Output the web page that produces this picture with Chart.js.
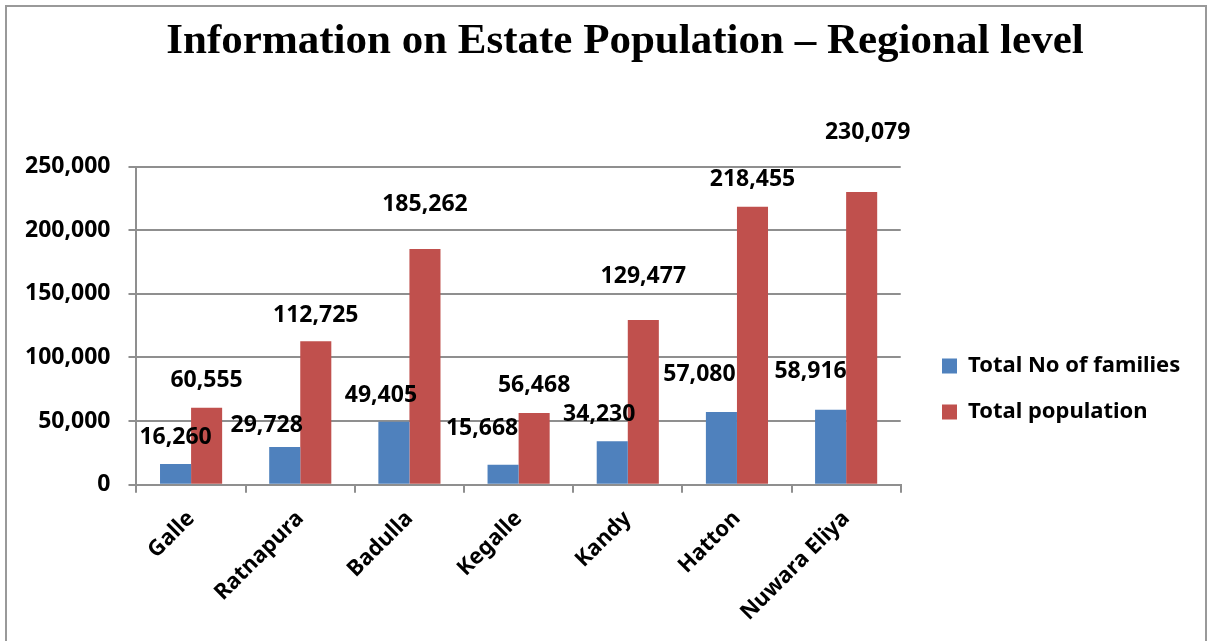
<!DOCTYPE html>
<html>
<head>
<meta charset="utf-8">
<script src="https://cdn.jsdelivr.net/npm/chart.js@4/dist/chart.umd.min.js"></script>
<style>
  html, body { margin: 0; padding: 0; background: #fff; overflow: hidden; }
  #wrap { position: relative; width: 1209px; height: 641px; }
  #frame { position: absolute; left: 5px; top: 5px; width: 1198px; height: 700px; border: 2px solid #999; pointer-events: none; }
  canvas { position: absolute; left: 0; top: 0; }
</style>
</head>
<body>
<div id="wrap">
  <canvas id="c" width="1209" height="641"></canvas>
  <div id="frame"></div>
</div>
<script>
// ---- data ----
const chartTitle = 'Information on Estate Population \u2013 Regional level';
const regions = ['Galle', 'Ratnapura', 'Badulla', 'Kegalle', 'Kandy', 'Hatton', 'Nuwara Eliya'];
const seriesNames = ['Total No of families', 'Total population'];
const totalFamilies = [16260, 29728, 49405, 15668, 34230, 57080, 58916];
const totalPopulation = [60555, 112725, 185262, 56468, 129477, 218455, 230079];
const yMin = 0, yMax = 250000, yStep = 50000;

// ---- label placement tweaks (pixels, as placed in the original) ----
const familiesLabelShift = [[0, 0], [-18, 6], [-13, 1], [-21, -9], [-13, 0], [-22, -11], [-20, -11]];
const populationLabelShift = [[0, 0], [0, 1], [0, -18], [0, 0], [0, -17], [0, 0], [6, -32]];

const fmt = v => Number(v).toLocaleString('en-US');
const SANS = "'Noto Sans', 'Open Sans', sans-serif";
const GRID = '#8f8f8f';

Chart.defaults.font.family = SANS;
Chart.defaults.color = '#000';

const valueLabels = {
  id: 'valueLabels',
  afterDatasetsDraw(chart) {
    const ctx = chart.ctx;
    const shifts = [familiesLabelShift, populationLabelShift];
    ctx.save();
    ctx.font = "bold 23px " + SANS;
    ctx.fillStyle = '#000';
    ctx.textAlign = 'center';
    ctx.textBaseline = 'middle';
    chart.data.datasets.forEach((ds, di) => {
      const meta = chart.getDatasetMeta(di);
      meta.data.forEach((el, i) => {
        const s = shifts[di][i];
        ctx.fillText(fmt(ds.data[i]), el.x + s[0], el.y - 27 + s[1]);
      });
    });
    ctx.restore();
  }
};

const placeBlocks = {
  id: 'placeBlocks',
  afterLayout(chart, args, opts) {
    const lg = chart.legend;
    if (lg) {
      const h = lg.bottom - lg.top, w = lg.right - lg.left;
      lg.left = opts.legendLeft; lg.right = lg.left + w;
      lg.top = opts.legendTop; lg.bottom = lg.top + h;
    }
    const tb = chart.titleBlock;
    if (tb) {
      const w = tb.right - tb.left;
      tb.left = opts.titleCenter - w / 2; tb.right = tb.left + w;
    }
  }
};

new Chart(document.getElementById('c'), {
  type: 'bar',
  data: {
    labels: regions,
    datasets: [
      { label: seriesNames[0], data: totalFamilies, backgroundColor: '#4F81BD' },
      { label: seriesNames[1], data: totalPopulation, backgroundColor: '#C0504D' }
    ]
  },
  options: {
    responsive: false,
    animation: false,
    devicePixelRatio: 1,
    layout: { padding: { left: 7, right: 36, top: 0, bottom: 2 } },
    datasets: { bar: { categoryPercentage: 0.569, barPercentage: 1.0 } },
    scales: {
      x: {
        offset: true,
        grid: { display: true, drawOnChartArea: false, drawTicks: true, tickLength: 8, color: GRID, lineWidth: 2, offset: true },
        border: { display: true, color: GRID, width: 2 },
        ticks: { autoSkip: false, minRotation: 45, maxRotation: 45, padding: 13, font: { size: 22, weight: 'bold' }, color: '#000' }
      },
      y: {
        min: yMin, max: yMax,
        grid: { color: GRID, lineWidth: 2, tickLength: 8 },
        border: { display: true, color: GRID, width: 2 },
        ticks: { stepSize: yStep, padding: 18, font: { size: 23, weight: 'bold' }, color: '#000', callback: v => fmt(v) }
      }
    },
    plugins: {
      title: {
        display: true, text: chartTitle, color: '#000',
        font: { family: "'Liberation Serif', 'Times New Roman', serif", size: 43, weight: 'bold' },
        padding: { top: 16, bottom: 99 }
      },
      legend: {
        position: 'right', align: 'start',
        labels: { boxWidth: 15, boxHeight: 15, padding: 24, font: { size: 22, weight: 'bold' }, color: '#000' }
      },
      tooltip: { enabled: false },
      placeBlocks: { legendLeft: 918, legendTop: 331, titleCenter: 625 }
    }
  },
  plugins: [valueLabels, placeBlocks]
});
</script>
</body>
</html>
